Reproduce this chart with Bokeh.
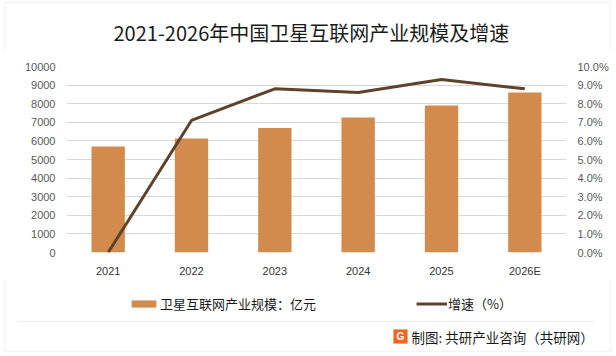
from bokeh.plotting import figure
from bokeh.layouts import column
from bokeh.models import (FactorRange, Range1d, LinearAxis, FixedTicker, PrintfTickFormatter,
                          Legend, LegendItem, ColumnDataSource, Label, BoxAnnotation)
from bokeh.embed import file_html
from bokeh.resources import INLINE

# ---- data ----
years = ["2021", "2022", "2023", "2024", "2025", "2026E"]
scale = [5700, 6130, 6700, 7260, 7900, 8600]          # 卫星互联网产业规模（亿元）
growth = [0.0, 7.1, 8.8, 8.6, 9.3, 8.8]               # 增速（%）
left_ticks = [0, 1000, 2000, 3000, 4000, 5000, 6000, 7000, 8000, 9000, 10000]
right_ticks = [0, 1, 2, 3, 4, 5, 6, 7, 8, 9, 10]

title_text = "2021-2026年中国卫星互联网产业规模及增速"
bar_label = "卫星互联网产业规模：亿元"
line_label = "增速（%）"
source_text = "制图: 共研产业咨询（共研网）"

CJK = "Noto Sans CJK SC"
NUM = "Liberation Sans"
BAR_COLOR = "#D28A4D"
LINE_COLOR = "#5E432C"
TEXT_COLOR = "#595959"
FRAME_COLOR = "#D9D9D9"

src = ColumnDataSource(dict(year=years, scale=scale, growth=growth))
W = 616


def strip(height):
    s = figure(width=W, height=height, x_range=Range1d(0, W), y_range=Range1d(0, height),
               output_backend="svg", toolbar_location=None, title=None,
               min_border_left=0, min_border_right=0, min_border_top=0, min_border_bottom=0)
    s.axis.visible = False
    s.grid.visible = False
    s.outline_line_color = None
    s.background_fill_color = "white"
    s.border_fill_color = "white"
    return s


# ---------------- title strip ----------------
TH = 50
t = strip(TH)
t.add_layout(BoxAnnotation(left=4, right=610, bottom=-10, top=TH - 2,
                           fill_alpha=0, line_color=FRAME_COLOR, line_width=1.5))
t.add_layout(Label(x=113, y=18, text=title_text, text_font=CJK, text_font_size="20px",
                   text_color="#1a1a1a", text_align="left", text_baseline="middle"))

# ---------------- main chart ----------------
p = figure(width=W, height=230, x_range=FactorRange(*years), y_range=Range1d(0, 10000),
           output_backend="svg", toolbar_location=None, title=None,
           min_border_left=66, min_border_right=50, min_border_top=16, min_border_bottom=28)
p.extra_y_ranges = {"pct": Range1d(0, 10)}
p.outline_line_color = None
p.background_fill_color = "white"
p.border_fill_color = "white"

p.vbar(x="year", top="scale", width=0.4, source=src, color=BAR_COLOR, line_color=None)
p.line(x="year", y="growth", source=src, y_range_name="pct", line_color=LINE_COLOR, line_width=3)

p.yaxis.ticker = FixedTicker(ticks=left_ticks)
right = LinearAxis(y_range_name="pct", ticker=FixedTicker(ticks=right_ticks),
                   formatter=PrintfTickFormatter(format="%.1f%%"))
p.add_layout(right, "right")
for ax in p.axis:
    ax.axis_line_color = None
    ax.major_tick_line_color = None
    ax.major_tick_out = 0
    ax.major_tick_in = 0
    ax.minor_tick_line_color = None
    ax.major_label_text_font = NUM
    ax.major_label_text_font_size = "11px"
    ax.major_label_text_color = TEXT_COLOR
    ax.major_label_standoff = 11
p.xaxis.major_label_text_color = "#333333"
p.xaxis.major_label_standoff = 12
p.xgrid.grid_line_color = None
p.ygrid.grid_line_color = FRAME_COLOR
p.ygrid.grid_line_width = 1

# ---------------- legend + footer strip ----------------
H = 76
f = strip(H)

# legend keys: same series, styled like the chart (their values lie outside this strip's range)
key_bar = f.vbar(x="scale", top="scale", width=1, source=src, color=BAR_COLOR, line_color=None)
key_line = f.line(x="scale", y="growth", source=src, line_color=LINE_COLOR, line_width=3)
leg = Legend(items=[LegendItem(label=bar_label, renderers=[key_bar]),
                    LegendItem(label=line_label, renderers=[key_line])],
             location=(128, 43), orientation="horizontal", spacing=100,
             glyph_width=31, glyph_height=9, label_standoff=1, label_height=20,
             label_text_font=CJK, label_text_font_size="13px", label_text_color="#1a1a1a",
             padding=0, margin=0, border_line_alpha=0, background_fill_alpha=0)
f.add_layout(leg, "center")

# separator and outer frame
f.add_layout(BoxAnnotation(left=17, right=593, bottom=35, top=35,
                           fill_alpha=0, line_color=FRAME_COLOR, line_width=1))
f.add_layout(BoxAnnotation(left=4, right=610, bottom=5, top=H + 5,
                           fill_alpha=0, line_color=FRAME_COLOR, line_width=1.5))

# source logo + text
f.add_layout(BoxAnnotation(left=393, right=407, bottom=13, top=27,
                           fill_color="#F26522", fill_alpha=1, line_color="#F7941D"))
f.add_layout(Label(x=400, y=20, text="G", text_font=NUM, text_font_size="10px",
                   text_font_style="bold", text_color="white",
                   text_align="center", text_baseline="middle"))
f.add_layout(Label(x=411, y=20, text=source_text, text_font=CJK, text_font_size="13.5px",
                   text_color="#1a1a1a", text_align="left", text_baseline="middle"))

for fig in (t, p, f):
    if "frame_align" in fig.properties():
        fig.frame_align = False

layout = column(t, p, f, spacing=0)
open("out.html", "w").write(file_html(layout, INLINE))
